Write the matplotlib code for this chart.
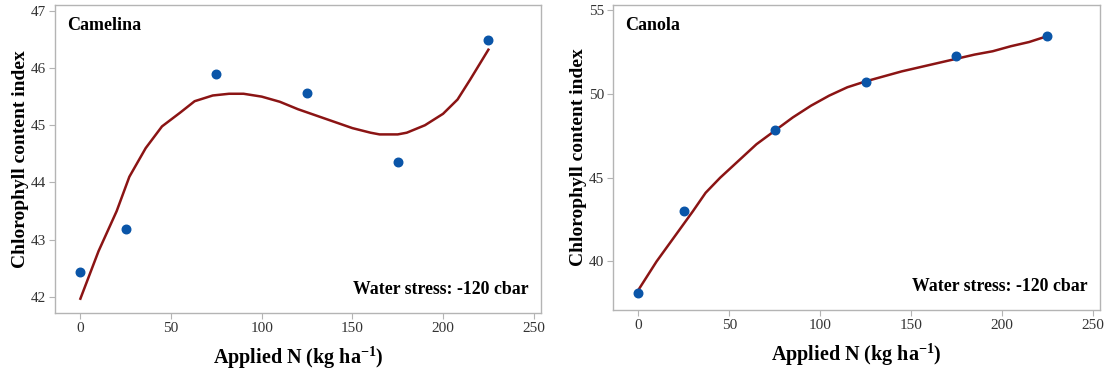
import matplotlib
matplotlib.use('Agg')
from matplotlib import pyplot as plt

plt.rcParams['font.family'] = ['Liberation Serif', 'DejaVu Serif']
plt.rcParams['mathtext.fontset'] = 'custom'
plt.rcParams['mathtext.rm'] = 'Liberation Serif:bold'
plt.rcParams['mathtext.bf'] = 'Liberation Serif:bold'
plt.rcParams['mathtext.default'] = 'bf'

# measured points
n_rate = [0, 25, 75, 125, 175, 225]
camelina = [42.44, 43.19, 45.90, 45.57, 44.35, 46.49]
canola = [38.1, 43.0, 47.85, 50.7, 52.25, 53.45]

# fitted curves
cam_fit_x = [0, 10, 20, 27, 36, 45, 55, 63, 73, 82, 90, 100, 110, 120, 130,
             140, 150, 160, 165, 175, 180, 190, 200, 208, 215, 225]
cam_fit_y = [41.97, 42.8, 43.5, 44.1, 44.6, 44.98, 45.22, 45.42, 45.52, 45.55,
             45.55, 45.5, 45.41, 45.28, 45.17, 45.06, 44.95, 44.87, 44.84, 44.84,
             44.87, 45.0, 45.2, 45.45, 45.8, 46.32]
can_fit_x = [0, 10, 20, 30, 37, 45, 55, 65, 75, 85, 95, 105, 115, 125, 135,
             145, 155, 165, 175, 185, 195, 205, 215, 225]
can_fit_y = [38.3, 40.0, 41.5, 43.0, 44.1, 45.0, 46.0, 47.0, 47.8, 48.6, 49.3,
             49.9, 50.4, 50.75, 51.05, 51.35, 51.6, 51.85, 52.1, 52.35, 52.55,
             52.85, 53.1, 53.45]

x_ticks = [0, 50, 100, 150, 200, 250]

fig = plt.figure(figsize=(11.09, 3.7), dpi=100)
ax1 = fig.add_axes([0.0496, 0.154, 0.4382, 0.8324])
ax2 = fig.add_axes([0.5527, 0.162, 0.4391, 0.824])

panels = [
    (ax1, camelina, cam_fit_x, cam_fit_y, 'Camelina', (41.72, 47.1), [42, 43, 44, 45, 46, 47]),
    (ax2, canola, can_fit_x, can_fit_y, 'Canola', (37.1, 55.3), [40, 45, 50, 55]),
]

for ax, pts, fx, fy, name, ylim, yt in panels:
    ax.plot(fx, fy, color='#8b1414', lw=1.8, zorder=2)
    ax.scatter(n_rate, pts, s=38, color='#0a55a8', zorder=3)
    ax.set_xlim(-14, 254)
    ax.set_ylim(*ylim)
    ax.set_xticks(x_ticks)
    ax.set_yticks(yt)
    for s in ax.spines.values():
        s.set_color('#b4b4b4')
        s.set_linewidth(1.0)
    ax.tick_params(colors='#b4b4b4', labelcolor='#333333', labelsize=11, length=4, pad=2.5)
    ax.set_ylabel('Chlorophyll content index', fontsize=14, fontweight='bold', labelpad=1)
    ax.set_xlabel('Applied N (kg ha$^{-1}$)', fontsize=14.5, fontweight='bold', labelpad=7)
    ax.text(0.025, 0.96, name, transform=ax.transAxes, fontsize=13,
            fontweight='bold', va='top', ha='left')
    ax.text(0.975, 0.05, 'Water stress: -120 cbar', transform=ax.transAxes,
            fontsize=12.8, fontweight='bold', va='bottom', ha='right')

plt.savefig('out.png', dpi=100)
